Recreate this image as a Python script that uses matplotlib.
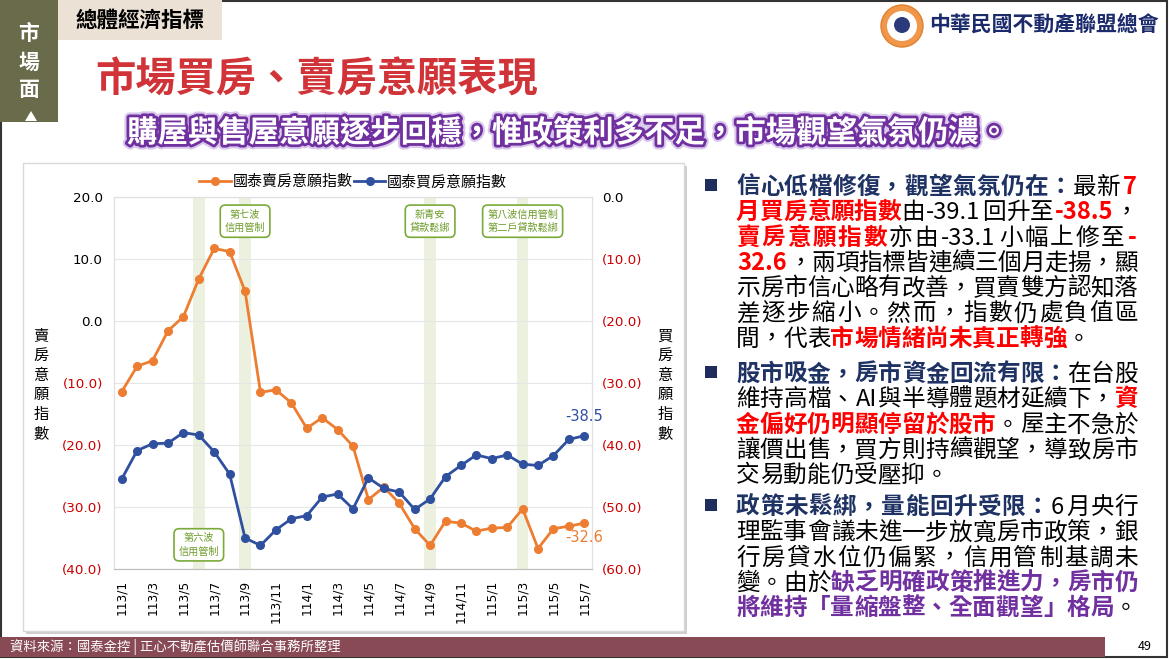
import matplotlib
matplotlib.use('Agg')
import matplotlib.pyplot as plt
import matplotlib.patheffects as pe
from matplotlib.patches import Rectangle, Polygon, Circle

plt.rcParams['font.family'] = ['Noto Sans CJK TC', 'DejaVu Sans']

# ---- data ----
months = ['113/1', '113/2', '113/3', '113/4', '113/5', '113/6', '113/7', '113/8',
          '113/9', '113/10', '113/11', '113/12', '114/1', '114/2', '114/3', '114/4',
          '114/5', '114/6', '114/7', '114/8', '114/9', '114/10', '114/11', '114/12',
          '115/1', '115/2', '115/3', '115/4', '115/5', '115/6', '115/7']
sell_idx = [-11.4, -7.3, -6.4, -1.6, 0.7, 6.8, 11.7, 11.2, 4.8, -11.5, -11.1, -13.2,
            -17.3, -15.6, -17.5, -20.2, -28.8, -26.8, -29.4, -33.5, -36.2, -32.3, -32.6, -33.9,
            -33.4, -33.3, -30.3, -36.7, -33.5, -33.1, -32.6]
buy_idx = [-45.5, -40.9, -39.8, -39.7, -38.0, -38.4, -41.1, -44.7, -55.0, -56.2, -53.7, -51.9,
           -51.4, -48.4, -47.9, -50.3, -45.3, -47.0, -47.6, -50.4, -48.7, -45.1, -43.3, -41.6,
           -42.2, -41.6, -43.1, -43.3, -41.7, -39.1, -38.5]
band_months = ['113/6', '113/9', '114/9', '115/3']
notes = ['第七波\n信用管制', '第六波\n信用管制', '新青安\n貸款鬆綁', '第八波信用管制\n第二戶貸款鬆綁']
note_months = ['113/9', '113/6', '114/9', '115/3']
note_levels = [16.1, -36.1, 16.1, 16.1]
left_ticks = [20, 10, 0, -10, -20, -30, -40]
right_ticks = [0, -10, -20, -30, -40, -50, -60]

ORANGE = '#ed7d31'
BLUE = '#2f4f9f'
RED_TICK = '#cc0000'

fig = plt.figure(figsize=(11.69, 6.59), dpi=100)
renderer = fig.canvas.get_renderer()

# background layer in pixel coordinates
bg = fig.add_axes([0, 0, 1, 1])
bg.set_xlim(0, 1169)
bg.set_ylim(659, 0)
bg.axis('off')
bg.set_zorder(0)

# slide frame, tab, header
bg.add_patch(Rectangle((1, 1), 1166, 656, fill=False, ec='#333333', lw=1.5))
bg.add_patch(Rectangle((0, 0), 58, 122, fc='#6a6b4b', ec='none'))
bg.add_patch(Polygon([[31, 111], [25, 121], [37, 121]], fc='white', ec='none'))
for ch, yy in zip('市場面', [33, 62, 90]):
    bg.text(29, yy, ch, color='white', fontsize=15, fontweight='bold', ha='center', va='center')
bg.add_patch(Rectangle((58, 0), 164, 40, fc='#ebe1d5', ec='none'))
bg.text(76, 20, '總體經濟指標', fontsize=15.5, fontweight='bold', ha='left', va='center')

bg.text(95, 80, '市場買房、賣房意願表現', color='#d13438', fontsize=29, fontweight='bold',
        ha='left', va='center')
bg.text(127, 133, '購屋與售屋意願逐步回穩，惟政策利多不足，市場觀望氣氛仍濃。', color='white',
        fontsize=21.9, fontweight='bold', ha='left', va='center',
        path_effects=[pe.Stroke(linewidth=7, foreground='#d9c8ec'),
                      pe.Stroke(linewidth=4, foreground='#7030a0'), pe.Normal()])

# logo
bg.add_patch(Circle((902, 26), 21, fc='#f0974a', ec='#e08030', lw=1))
bg.add_patch(Circle((902, 26), 15, fc='white', ec='none'))
bg.add_patch(Circle((902, 25), 8, fc='#2b3a7a', ec='none'))
bg.text(929, 24, '中華民國不動產聯盟總會', color='#1b2a6b', fontsize=15, fontweight='bold',
        ha='left', va='center')

# chart panel
bg.add_patch(Rectangle((26, 166), 661, 468, fc='#cfcfcf', ec='none'))
bg.add_patch(Rectangle((23, 163), 661, 468, fc='white', ec='#d9d9d9', lw=1))
bg.text(41, 385, '賣\n房\n意\n願\n指\n數', fontsize=11, ha='center', va='center', linespacing=1.2)
bg.text(665, 385, '買\n房\n意\n願\n指\n數', fontsize=11, ha='center', va='center', linespacing=1.2)

# footer
bg.add_patch(Rectangle((0, 637), 1105, 20, fc='#884a55', ec='none'))
bg.text(10, 647, '資料來源：國泰金控 | 正心不動產估價師聯合事務所整理', color='white',
        fontsize=9.6, ha='left', va='center')
bg.text(1145, 646, '49', fontsize=9, ha='center', va='center')

# ---- right-hand text ----
STY = {'n': ('#000000', 'normal'), 'h': ('#1f3264', 'bold'),
       'r': ('#ff0000', 'bold'), 'p': ('#7030a0', 'bold')}
FS = 17
EM = FS * 100 / 72
LEFT, RIGHT = 736, 1138


def put_line(yc, runs, justify):
    y = yc + 0.38 * EM
    items = []
    for txt, st in runs:
        color, weight = STY[st]
        buf = ''
        for ch in txt + '\0':
            if ch != '\0' and ord(ch) < 128:
                buf += ch
                continue
            if buf:
                t = bg.text(0, y, buf, color=color, fontweight=weight, fontsize=FS,
                            ha='left', va='baseline')
                items.append((t, t.get_window_extent(renderer).width + 3, 'left'))
                buf = ''
            if ch != '\0':
                t = bg.text(0, y, ch, color=color, fontweight=weight, fontsize=FS,
                            ha='center', va='baseline')
                items.append((t, EM, 'center'))
    total = sum(w for _, w, _ in items)
    gap = (RIGHT - LEFT - total) / (len(items) - 1) if justify and len(items) > 1 else 0
    x = LEFT
    for t, w, ha in items:
        t.set_x(x + (w / 2 if ha == 'center' else 1.5))
        x += w + gap


para1 = [
    [('信心低檔修復，觀望氣氛仍在：', 'h'), ('最新', 'n'), ('7', 'r')],
    [('月買房意願指數', 'r'), ('由-39.1回升至', 'n'), ('-38.5', 'r'), ('，', 'n')],
    [('賣房意願指數', 'r'), ('亦由-33.1小幅上修至', 'n'), ('-', 'r')],
    [('32.6', 'r'), ('，兩項指標皆連續三個月走揚，顯', 'n')],
    [('示房市信心略有改善，買賣雙方認知落', 'n')],
    [('差逐步縮小。然而，指數仍處負值區', 'n')],
    [('間，代表', 'n'), ('市場情緒尚未真正轉強', 'r'), ('。', 'n')],
]
para2 = [
    [('股市吸金，房市資金回流有限：', 'h'), ('在台股', 'n')],
    [('維持高檔、AI與半導體題材延續下，', 'n'), ('資', 'r')],
    [('金偏好仍明顯停留於股市', 'r'), ('。屋主不急於', 'n')],
    [('讓價出售，買方則持續觀望，導致房市', 'n')],
    [('交易動能仍受壓抑。', 'n')],
]
para3 = [
    [('政策未鬆綁，量能回升受限：', 'h'), ('6月央行', 'n')],
    [('理監事會議未進一步放寬房市政策，銀', 'n')],
    [('行房貸水位仍偏緊，信用管制基調未', 'n')],
    [('變。由於', 'n'), ('缺乏明確政策推進力，房市仍', 'p')],
    [('將維持「量縮盤整、全面觀望」格局', 'p'), ('。', 'n')],
]
paras = [para1, para2, para3]
para_tops = [185, 372, 505]
for para, top in zip(paras, para_tops):
    bg.add_patch(Rectangle((705, top - 6), 12, 12, fc='#1f2d5e', ec='none'))
    for i, runs in enumerate(para):
        put_line(top + i * 25.3, runs, i < len(para) - 1)

# ---- chart ----
x = list(range(len(months)))
ax = fig.add_axes([114 / 1169, 1 - 569 / 659, 478 / 1169, 372 / 659])
ax.set_zorder(2)
ax.set_facecolor('none')
ax.set_xlim(-0.5, len(months) - 0.5)
ax.set_ylim(-40, 20)
for m in band_months:
    i = months.index(m)
    ax.axvspan(i - 0.38, i + 0.38, color='#ebf1de', lw=0, zorder=0)
for v in left_ticks:
    ax.axhline(v, color='#e6e6e6', lw=0.8, zorder=0.5)
ln1, = ax.plot(x, sell_idx, color=ORANGE, lw=2, marker='o', ms=5.5, zorder=3,
               label='國泰賣房意願指數')


def fmt(v):
    return f'{v:.1f}' if v >= 0 else f'({-v:.1f})'


ax.set_yticks(left_ticks, [fmt(v) for v in left_ticks], fontsize=9.7, family='DejaVu Sans')
for lbl, v in zip(ax.get_yticklabels(), left_ticks):
    lbl.set_color('black' if v >= 0 else RED_TICK)
ax.set_xticks(x[::2], months[::2], rotation=90, fontsize=8.8, family='DejaVu Sans')
ax.tick_params(length=0)
ax.tick_params(axis='y', pad=8)
ax.tick_params(axis='x', pad=8)

ax2 = ax.twinx()
ax2.set_zorder(3)
ax2.set_facecolor('none')
ax2.set_ylim(-60, 0)
ln2, = ax2.plot(x, buy_idx, color=BLUE, lw=2, marker='o', ms=5.5, zorder=3,
                label='國泰買房意願指數')
ax2.set_yticks(right_ticks, [fmt(v) for v in right_ticks], fontsize=9.7, family='DejaVu Sans')
for lbl, v in zip(ax2.get_yticklabels(), right_ticks):
    lbl.set_color('black' if v >= 0 else RED_TICK)
ax2.tick_params(length=0, pad=7)

for a in (ax, ax2):
    for s in a.spines.values():
        s.set_color('#e0e0e0')
        s.set_linewidth(0.8)
    a.spines['bottom'].set_color('#bfbfbf')

for txt, m, lev in zip(notes, note_months, note_levels):
    ax.text(months.index(m), lev, txt, fontsize=7.3, color='#6e9b2a', ha='center', va='center',
            linespacing=1.35, zorder=5,
            bbox=dict(boxstyle='round,pad=0.45,rounding_size=0.5', fc='white', ec='#7aab3a', lw=1.2))

ax2.annotate(f'{buy_idx[-1]:.1f}', (x[-1], buy_idx[-1]), xytext=(0, 14), textcoords='offset points',
             ha='center', va='center', color=BLUE, fontsize=10.5, family='DejaVu Sans')
ax.annotate(f'{sell_idx[-1]:.1f}', (x[-1], sell_idx[-1]), xytext=(0, -10.5), textcoords='offset points',
            ha='center', va='center', color=ORANGE, fontsize=10.5, family='DejaVu Sans')

ax2.legend(handles=[ln1, ln2], loc='center', bbox_to_anchor=(0.5, 1.04), ncol=2, frameon=False,
           fontsize=10.8, handlelength=2.1, handletextpad=0.1, columnspacing=0.1)

fig.savefig('out.png', dpi=100)
